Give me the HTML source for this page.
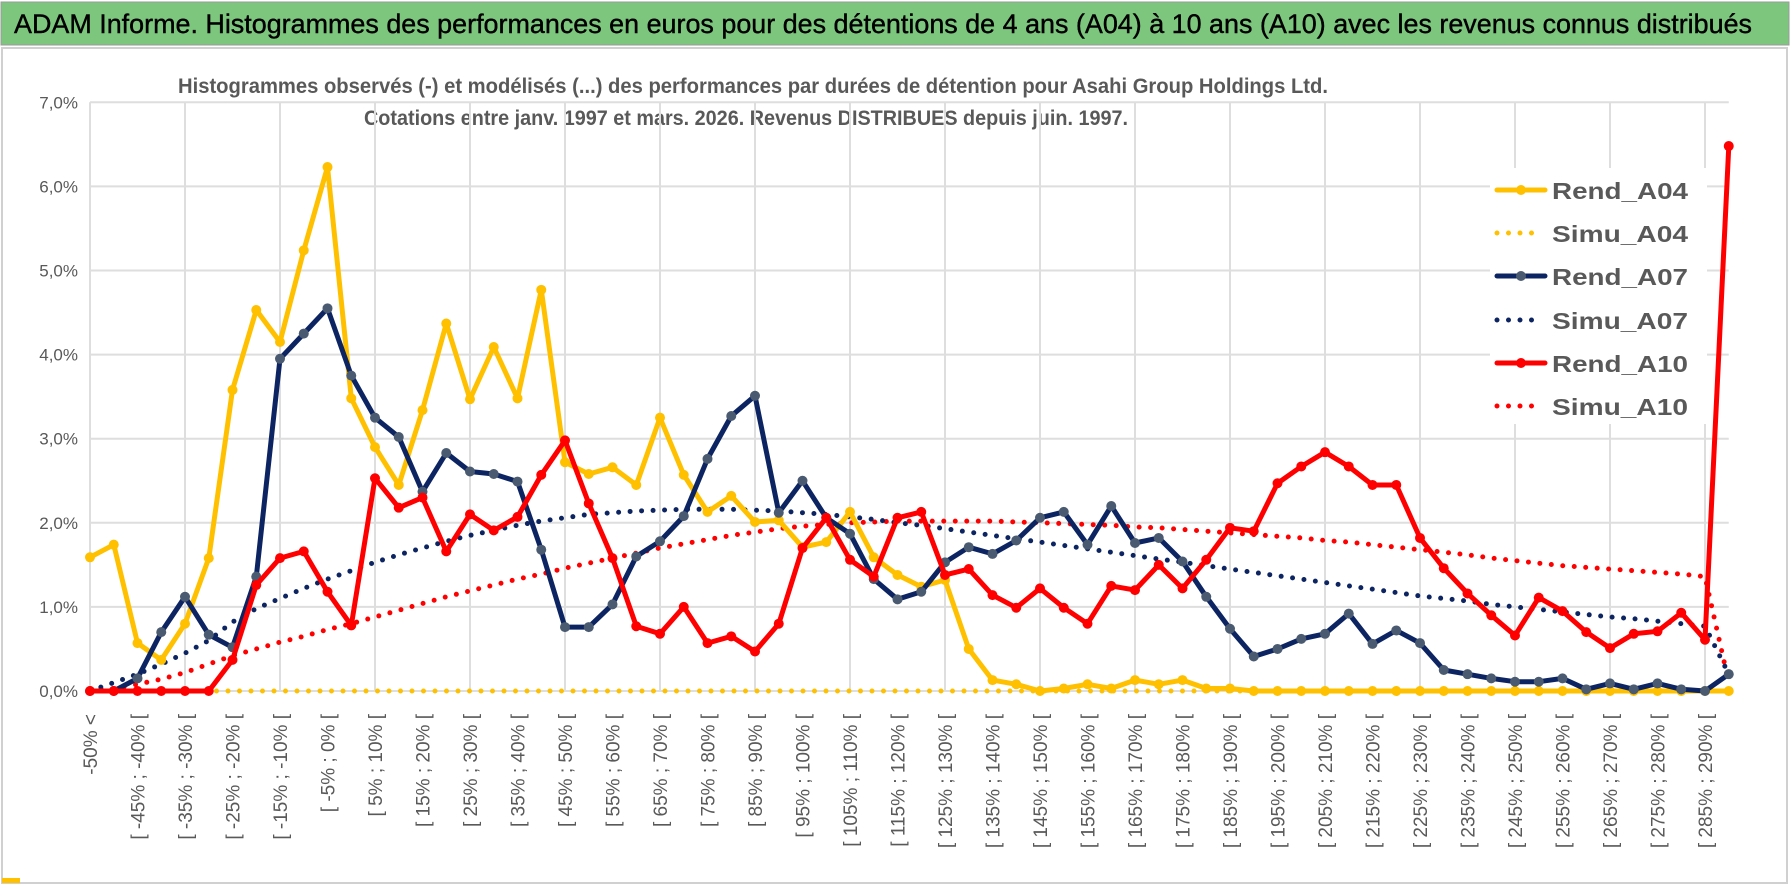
<!DOCTYPE html>
<html><head><meta charset="utf-8"><style>
html,body{margin:0;padding:0;background:#fff;}
svg{display:block;}
text{font-family:"Liberation Sans",sans-serif;}
</style></head><body>
<svg id="chart" width="1790" height="888" viewBox="0 0 1790 888" xmlns="http://www.w3.org/2000/svg">
<rect x="0" y="0" width="1790" height="888" fill="#ffffff"/>
<rect x="1" y="2" width="1788" height="43" fill="#7dc67d" stroke="#9a9a9a" stroke-width="1"/>
<text x="14" y="33" font-size="27" fill="#000" stroke="#000" stroke-width="0.4" textLength="1738" lengthAdjust="spacingAndGlyphs">ADAM Informe. Histogrammes des performances en euros pour des détentions de 4 ans (A04) à 10 ans (A10) avec les revenus connus distribués</text>
<rect x="2" y="48" width="1785" height="835" fill="none" stroke="#d0d0d0" stroke-width="2"/>
<rect x="2" y="878" width="18" height="5" fill="#ffc000"/>
<text x="753" y="93" font-size="21" font-weight="bold" fill="#595959" text-anchor="middle" textLength="1150" lengthAdjust="spacingAndGlyphs">Histogrammes observés (-) et modélisés (...) des performances par durées de détention pour Asahi Group Holdings Ltd.</text>
<text x="746" y="125" font-size="21" font-weight="bold" fill="#595959" text-anchor="middle" textLength="764" lengthAdjust="spacingAndGlyphs">Cotations entre janv. 1997 et mars. 2026. Revenus DISTRIBUES depuis juin. 1997.</text>
<g id="grid"></g>
<g id="yaxis"></g>
<g id="xaxis"></g>
<g id="series"></g>
<g id="legend"></g>
</svg>
<script>
const yTicks = [0,1,2,3,4,5,6,7];
const rendA04 = [1.59,1.74,0.57,0.37,0.8,1.58,3.58,4.53,4.15,5.24,6.23,3.48,2.9,2.45,3.34,4.37,3.47,4.09,3.48,4.77,2.72,2.58,2.66,2.45,3.25,2.57,2.13,2.32,2.01,2.03,1.71,1.77,2.13,1.59,1.38,1.24,1.32,0.5,0.13,0.08,0,0.03,0.08,0.03,0.13,0.08,0.13,0.03,0.03,0,0,0,0,0,0,0,0,0,0,0,0,0,0,0,0,0,0,0,0,0];
const simuA04 = [0,0,0,0,0,0,0,0,0,0,0,0,0,0,0,0,0,0,0,0,0,0,0,0,0,0,0,0,0,0,0,0,0,0,0,0,0,0,0,0,0,0,0,0,0,0,0,0,0,0,0,0,0,0,0,0,0,0,0,0,0,0,0,0,0,0,0,0,0,0];
const rendA07 = [0,0,0.15,0.7,1.12,0.67,0.52,1.36,3.95,4.25,4.55,3.75,3.25,3.02,2.37,2.83,2.61,2.58,2.49,1.68,0.76,0.76,1.03,1.6,1.78,2.08,2.76,3.27,3.51,2.12,2.5,2.06,1.87,1.33,1.09,1.18,1.53,1.71,1.63,1.79,2.06,2.13,1.74,2.2,1.76,1.82,1.54,1.12,0.74,0.41,0.5,0.62,0.68,0.92,0.56,0.72,0.57,0.25,0.2,0.15,0.11,0.11,0.15,0.02,0.09,0.02,0.09,0.02,0,0.2];
const simuA07 = [0,0.1,0.2,0.32,0.45,0.6,0.82,0.98,1.1,1.22,1.33,1.43,1.53,1.62,1.7,1.78,1.85,1.91,1.97,2.02,2.06,2.1,2.12,2.14,2.15,2.16,2.16,2.16,2.15,2.14,2.12,2.1,2.07,2.04,2.0,1.97,1.93,1.89,1.85,1.81,1.77,1.73,1.69,1.65,1.61,1.57,1.53,1.49,1.45,1.41,1.37,1.33,1.29,1.25,1.21,1.17,1.13,1.1,1.07,1.03,1.0,0.97,0.94,0.91,0.88,0.86,0.83,0.8,0.77,0.2];
const rendA10 = [0,0,0,0,0,0,0.37,1.26,1.58,1.66,1.18,0.78,2.53,2.18,2.3,1.66,2.1,1.91,2.07,2.57,2.98,2.23,1.58,0.77,0.68,1.0,0.57,0.65,0.47,0.8,1.7,2.06,1.56,1.36,2.06,2.13,1.38,1.45,1.14,0.99,1.22,0.99,0.8,1.25,1.2,1.5,1.22,1.56,1.94,1.9,2.47,2.67,2.84,2.67,2.45,2.45,1.82,1.46,1.16,0.9,0.66,1.11,0.95,0.7,0.51,0.68,0.71,0.93,0.61,6.48];
const simuA10 = [0,0.03,0.08,0.14,0.22,0.32,0.42,0.5,0.58,0.65,0.73,0.8,0.88,0.96,1.04,1.12,1.19,1.26,1.33,1.39,1.46,1.52,1.58,1.64,1.7,1.75,1.8,1.85,1.89,1.93,1.96,1.98,2.0,2.01,2.02,2.02,2.02,2.02,2.02,2.01,2.0,1.99,1.98,1.97,1.95,1.94,1.92,1.9,1.88,1.86,1.84,1.82,1.79,1.77,1.74,1.71,1.68,1.65,1.62,1.58,1.55,1.52,1.49,1.47,1.45,1.43,1.41,1.39,1.36,0.1];
const seriesNames = ["Rend_A04","Simu_A04","Rend_A07","Simu_A07","Rend_A10","Simu_A10"];

const NS="http://www.w3.org/2000/svg";
const N = rendA04.length;
const X0=90, DX=23.75, Y0=691, DY=84.1;
function xs(i){return X0+DX*i;}
function ys(v){return Y0-DY*v;}
function mk(tag, attrs, parent){const e=document.createElementNS(NS,tag);for(const k in attrs)e.setAttribute(k,attrs[k]);parent.appendChild(e);return e;}
function catLabel(i){
  if(i===0) return "-50% <";
  if(i===N-1) return "> 290%";
  const lo=-55+5*i, hi=lo+5;
  return "[ "+lo+"% ; "+hi+"% [";
}
const grid=document.getElementById('grid');
const yax=document.getElementById('yaxis');
const xax=document.getElementById('xaxis');
const xEnd=xs(N-1);
yTicks.forEach(t=>{
  const l=mk('line',{x1:X0,x2:xEnd,y1:ys(t),y2:ys(t),stroke:'#dedede','stroke-width':2},grid);
  
  
  const tx=mk('text',{x:78,y:ys(t)+6,'font-size':17,fill:'#595959','text-anchor':'end'},yax);
  tx.textContent=t.toFixed(1).replace('.',',')+'%';
  
  
});
for(let i=0;i<N;i+=4){
  const l=mk('line',{x1:xs(i),x2:xs(i),y1:ys(7),y2:Y0,stroke:'#dedede','stroke-width':2},grid);
  
  
}
for(let i=0;i<N-1;i+=2){
  const x=xs(i)+7;
  const tx=mk('text',{x:0,y:0,'font-size':19,fill:'#595959','text-anchor':'end',transform:'translate('+x+',714) rotate(-90)'},xax);
  tx.textContent=catLabel(i);
  
  
}
const ser=document.getElementById('series');
function drawLine(vals,color,name,marker){
  const pts=vals.map((v,i)=>xs(i).toFixed(1)+','+ys(v).toFixed(1)).join(' ');
  const p=mk('polyline',{points:pts,fill:'none',stroke:color,'stroke-width':5,'stroke-linejoin':'round'},ser);
  
  
  vals.forEach((v,i)=>{
    const c=mk('circle',{cx:xs(i),cy:ys(v),r:5,fill:marker},ser);
    
    
  });
}
function drawDots(vals,color,name){
  const pts=vals.map((v,i)=>xs(i).toFixed(1)+','+ys(v).toFixed(1)).join(' ');
  const p=mk('polyline',{points:pts,fill:'none',stroke:color,'stroke-width':5,'stroke-linecap':'round','stroke-dasharray':'0 11.5'},ser);
  
  
}
drawDots(simuA04,'#ffc000','simu-a04');
drawDots(simuA10,'#ff0000','simu-a10');
drawDots(simuA07,'#0c2461','simu-a07');
drawLine(rendA04,'#ffc000','rend-a04','#ffc000');
drawLine(rendA07,'#0c2461','rend-a07','#4a5a70');
drawLine(rendA10,'#ff0000','rend-a10','#ff0000');

const leg=document.getElementById('legend');
const lb=mk('rect',{x:1490,y:168,width:217,height:256,fill:'#ffffff'},leg);


const legColors=['#ffc000','#ffc000','#0c2461','#0c2461','#ff0000','#ff0000'];
const legMarker=['#ffc000',null,'#4a5a70',null,'#ff0000',null];
const legY=[190,233,276,320,363,406];
seriesNames.forEach((n,k)=>{
  const g=mk('g',{},leg);
  
  
  const y=legY[k];
  if(legMarker[k]){
    mk('line',{x1:1497,x2:1545,y1:y,y2:y,stroke:legColors[k],'stroke-width':5,'stroke-linecap':'round'},g);
    mk('circle',{cx:1521,cy:y,r:5,fill:legMarker[k]},g);
  } else {
    mk('line',{x1:1497,x2:1540,y1:y,y2:y,stroke:legColors[k],'stroke-width':5,'stroke-linecap':'round','stroke-dasharray':'0 11.5'},g);
  }
  const t=mk('text',{x:1552,y:y+9,'font-size':23,fill:'#595959','font-weight':'bold',textLength:136,lengthAdjust:'spacingAndGlyphs'},g);
  t.textContent=n;
});
</script>
</body></html>
